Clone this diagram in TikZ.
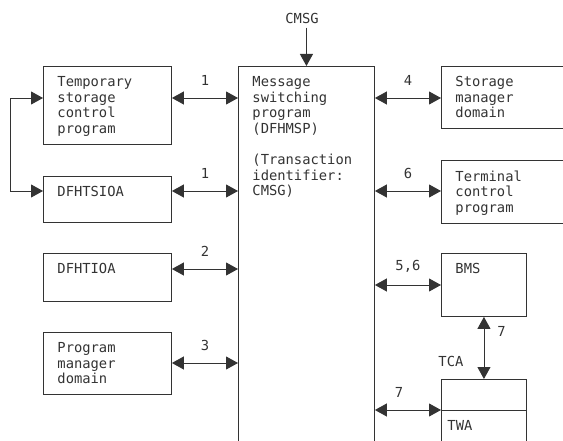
\documentclass[tikz,border=0pt]{standalone}
\usepackage{fontspec}
\newfontfamily\diagfont{DejaVu Sans Mono}
\usetikzlibrary{arrows.meta,positioning}
\definecolor{ink}{RGB}{51,51,51}

\begin{document}
\begin{tikzpicture}[x=1pt, y=-1pt, line width=0.9pt, color=ink,
    font=\diagfont\fontsize{13.8pt}{15.6pt}\selectfont,
    >={Triangle[length=12pt,width=13pt]},
    blk/.style={draw, rectangle, inner sep=0pt, anchor=north west},
    txt/.style={inner sep=0pt, anchor=north west, align=left},
    num/.style={inner sep=0pt, midway, above=12pt}]
    \useasboundingbox (0,0) rectangle (563,441);
    % left column
    \node[blk, minimum width=128pt, minimum height=78pt] (tsp) at (43,66) {};
    \node[blk, minimum width=128pt, minimum height=46pt] (tsioa) at (43,176) {};
    \node[blk, minimum width=128pt, minimum height=48pt] (tioa) at (43,253) {};
    \node[blk, minimum width=128pt, minimum height=62pt] (pmd) at (43,332) {};
    \node[txt] at ([shift={(14pt,-10pt)}]tsp.north west) {Temporary\\storage\\control\\program};
    \node[txt] at ([shift={(14pt,-10pt)}]tsioa.north west) {DFHTSIOA};
    \node[txt] at ([shift={(14pt,-10pt)}]tioa.north west) {DFHTIOA};
    \node[txt] at ([shift={(14pt,-10pt)}]pmd.north west) {Program\\manager\\domain};
    % message switching program
    \node[blk, minimum width=136pt, minimum height=400pt] (msp) at (238,66) {};
    \node[txt] at ([shift={(14pt,-10pt)}]msp.north west) {Message\\switching\\program\\(DFHMSP)\\[15.6pt](Transaction\\identifier:\\CMSG)};
    \node[inner sep=0pt] (cmsg) at (302,18) {CMSG};
    % right column
    \node[blk, minimum width=150pt, minimum height=62pt] (smd) at (441,66) {};
    \node[blk, minimum width=150pt, minimum height=63pt] (tcp) at (441,160) {};
    \node[blk, minimum width=85pt, minimum height=63pt] (bms) at (441,253) {};
    \node[blk, minimum width=85pt, minimum height=90pt] (tca) at (441,379) {};
    \node[txt] at ([shift={(14pt,-10pt)}]smd.north west) {Storage\\manager\\domain};
    \node[txt] at ([shift={(14pt,-10pt)}]tcp.north west) {Terminal\\control\\program};
    \node[txt] at ([shift={(14pt,-10pt)}]bms.north west) {BMS};
    \node[inner sep=0pt, anchor=south west] (tcalbl) at ([shift={(-3pt,12pt)}]tca.north west) {TCA};
    \coordinate (twa) at (441,410);
    \draw (twa) -- (tca.east |- twa);
    \node[txt] at ([shift={(6pt,-10pt)}]twa) {TWA};
    % rows of the connectors
    \coordinate (r1) at (0,98);
    \coordinate (r2) at (0,191);
    \coordinate (r3) at (0,269);
    \coordinate (r4) at (0,363);
    \coordinate (r5) at (0,285);
    % connectors
    \draw[->] ([yshift=-4pt]cmsg.south -| msp.north) -- (msp.north);
    \draw[<->] (tsp.east |- r1) -- node[num] {1} (msp.west |- r1);
    \draw[<->] (tsioa.east |- r2) -- node[num] {1} (msp.west |- r2);
    \draw[<->] (tioa.east |- r3) -- node[num] {2} (msp.west |- r3);
    \draw[<->] (pmd.east |- r4) -- node[num] {3} (msp.west |- r4);
    \draw[<->] (tsp.west |- r1) -- ++(-33,0) |- (tsioa.west |- r2);
    \draw[<->] (msp.east |- r1) -- node[num] {4} (smd.west |- r1);
    \draw[<->] (msp.east |- r2) -- node[num] {6} (tcp.west |- r2);
    \draw[<->] (msp.east |- r5) -- node[num] {5,6} (bms.west |- r5);
    \draw[<->] (msp.east |- twa) -- node[num, xshift=-9pt] {7} (twa);
    \draw[<->] (bms.south) -- node[pos=0.24, right=13pt, inner sep=0pt] {7} (tca.north);
\end{tikzpicture}
\end{document}
